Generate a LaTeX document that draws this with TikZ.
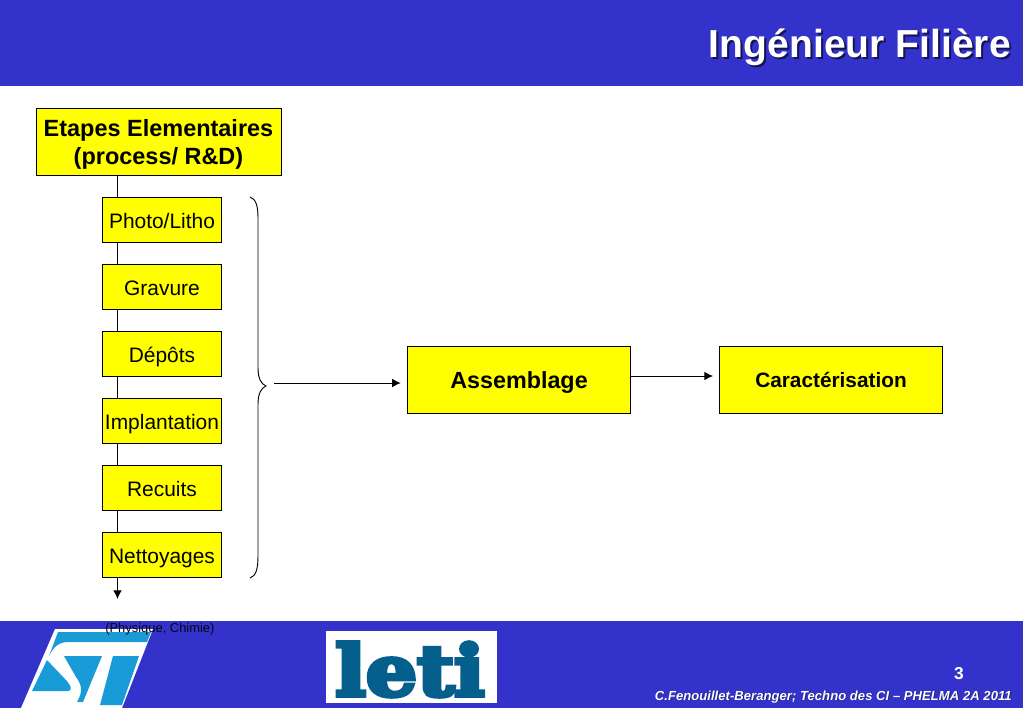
\documentclass[tikz,border=0pt]{standalone}
\usepackage{fontspec}
\setmainfont{Liberation Sans}
\newfontfamily\letifont[FakeBold=6]{DejaVu Serif Bold}
\usetikzlibrary{arrows.meta}
\definecolor{slideblue}{RGB}{51,51,204}
\definecolor{boxyellow}{RGB}{255,255,0}
\definecolor{stcyan}{RGB}{25,155,215}
\definecolor{letiblue}{RGB}{5,95,140}
\tikzset{
  stepbox/.style={draw, fill=boxyellow, line width=0.75pt, minimum width=119.5*0.75pt, minimum height=45*0.75pt, inner sep=0pt, text height=12.5pt, text depth=0.5pt, font=\fontsize{15.7}{18}\selectfont},
  bigbox/.style={draw, fill=boxyellow, line width=0.75pt, minimum width=223.5*0.75pt, minimum height=67*0.75pt, inner sep=0pt},
  link/.style={-{Latex[length=6.5pt,width=6.5pt]}, line width=0.7pt},
  spineline/.style={line width=0.7pt},
  titletext/.style={anchor=base east, inner sep=0pt, font=\bfseries\fontsize{29.3}{32}\selectfont},
  foottext/.style={anchor=base east, inner sep=0pt, font=\bfseries\itshape\fontsize{9.85}{11}\selectfont}
}
\begin{document}
\begin{tikzpicture}[x=0.75pt, y=-0.75pt]

  % --- Frame and bands ---
  \useasboundingbox (0,0) rectangle (1023,708);
  \fill[slideblue] (0,0) rectangle (1023,85.5);
  \fill[slideblue] (0,621) rectangle (1023,708);

  % --- Heading ---
  \node[titletext, text=black!60!slideblue] (titleshadow) at (1013,59) {Ingénieur Filière};
  \node[titletext, text=white] (title) at (1011,57) {Ingénieur Filière};

  % --- Left column ---
  \node[bigbox, minimum width=245*0.75pt, align=center, text depth=0pt, font=\bfseries\fontsize{17.6}{21}\selectfont] (etapes) at (158.5,142) {Etapes Elementaires\\(process/ R\&D)};
  \node[stepbox] (photo) at (162,220) {Photo/Litho};
  \node[stepbox] (gravure) at (162,287) {Gravure};
  \node[stepbox] (depots) at (162,354) {Dépôts};
  \node[stepbox] (implant) at (162,421) {Implantation};
  \node[stepbox] (recuits) at (162,488) {Recuits};
  \node[stepbox] (nettoyage) at (162,555) {Nettoyages};

  \coordinate (spine) at (117.5,0);
  \coordinate (spineend) at (117.5,599);
  \draw[spineline] (etapes.south -| spine) -- (photo.north -| spine);
  \draw[spineline] (photo.south -| spine) -- (gravure.north -| spine);
  \draw[spineline] (gravure.south -| spine) -- (depots.north -| spine);
  \draw[spineline] (depots.south -| spine) -- (implant.north -| spine);
  \draw[spineline] (implant.south -| spine) -- (recuits.north -| spine);
  \draw[spineline] (recuits.south -| spine) -- (nettoyage.north -| spine);
  \draw[link] (nettoyage.south -| spine) -- (spineend);

  % --- Brace ---
  \draw[line width=0.7pt] (250,197) .. controls (256,199) and (258,206) .. (258,218)
    -- (258,368) .. controls (258,378) and (261,384) .. (266,386)
    .. controls (261,388) and (258,394) .. (258,404)
    -- (258,556) .. controls (258,569) and (256,576) .. (250,578);

  % --- Right part ---
  \node[bigbox, text depth=0pt, font=\bfseries\fontsize{17.5}{20}\selectfont] (assemblage) at (519,380) {Assemblage};
  \node[bigbox, font=\bfseries\fontsize{15.6}{18}\selectfont] (carac) at (831,380) {Caractérisation};

  \coordinate (bracetip) at (274,383);
  \coordinate (caracin) at (713,376);
  \draw[link, shorten >=4.5pt] (bracetip) -- (bracetip -| assemblage.west);
  \draw[link] (assemblage.east |- caracin) -- (caracin);

  % --- ST logo ---
  \fill[white] (55,629) -- (153,629) -- (122,708) -- (21,708) -- cycle;
  \fill[stcyan] (58,632) -- (151,632) -- (147,642) -- (68,642) .. controls (58,642) and (53,648) .. (49,656) -- cycle;
  \fill[stcyan] (47,660) -- (65,679) .. controls (71,685) and (73,691) .. (68,691) -- (32,691) -- cycle;
  \fill[stcyan] (64,656) -- (102,656) -- (83,702) -- (77,702) .. controls (83,692) and (82,685) .. (76,677) -- cycle;
  \fill[stcyan] (113,656) -- (139,656) -- (122,705) -- (100,705) -- cycle;

  % --- Note across the band ---
  \node[anchor=base west, inner sep=0pt, text=black!90!slideblue, font=\fontsize{9.7}{11}\selectfont] (note) at (105,632) {(Physique, Chimie)};

  % --- Leti logo ---
  \fill[white] (326,631) rectangle (497,703);
  \node[text=letiblue, inner sep=0pt] (leti) at (410,669.5) {\resizebox{112pt}{40pt}{\letifont leti}};

  % --- Footer ---
  \node[anchor=base, inner sep=0pt, text=white, font=\bfseries\fontsize{13}{15}\selectfont] (pagenum) at (959,679) {3};
  \node[foottext, text=black!60!slideblue] (footshadow) at (1012.7,700.7) {C.Fenouillet-Beranger; Techno des CI – PHELMA 2A 2011};
  \node[foottext, text=white] (footer) at (1012,700) {C.Fenouillet-Beranger; Techno des CI – PHELMA 2A 2011};

\end{tikzpicture}
\end{document}
